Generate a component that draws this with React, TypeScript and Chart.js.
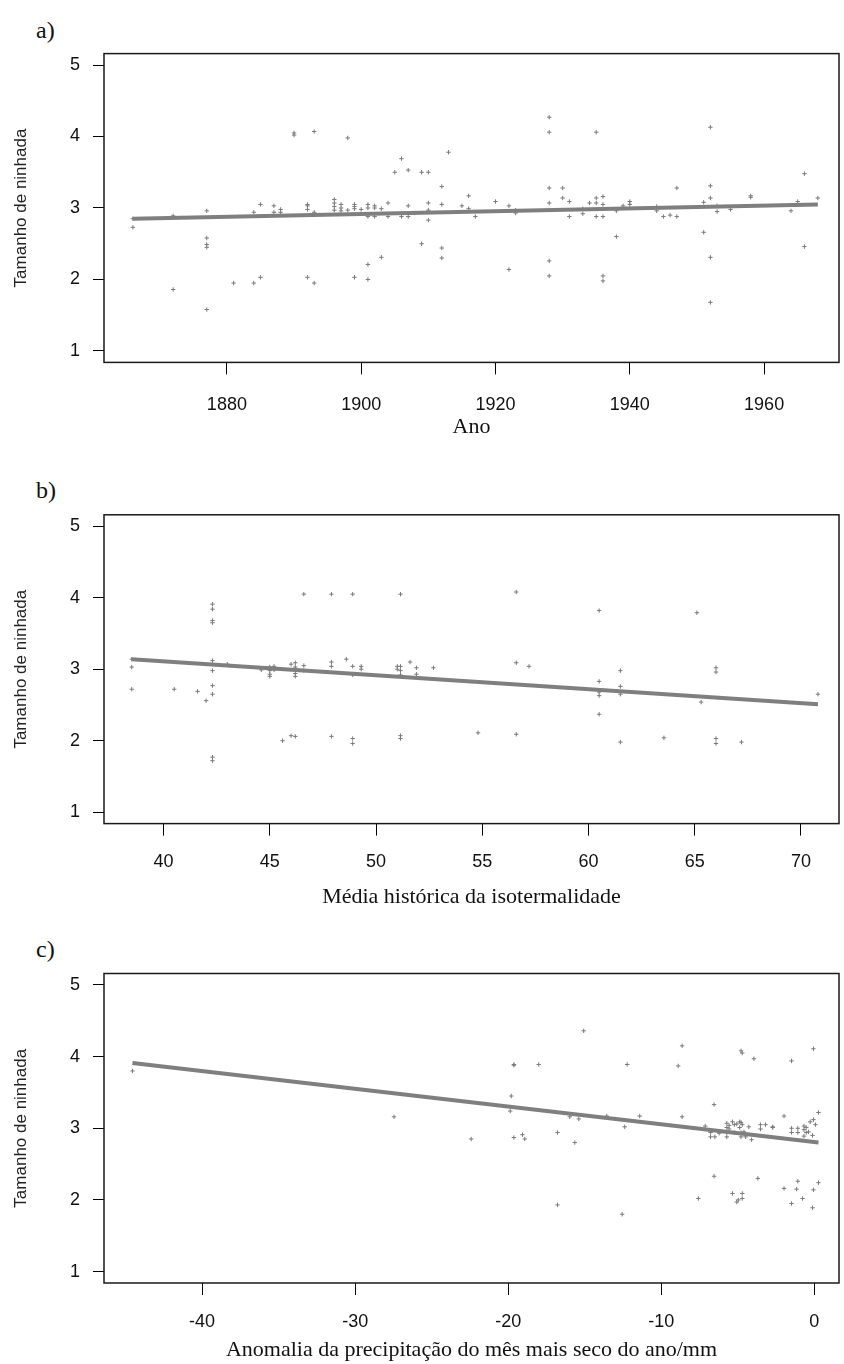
import React, { useEffect, useRef } from "react";
import { Chart, registerables } from "chart.js";

Chart.register(...registerables);

// ---------- shared ----------
const Y_TICKS = [1, 2, 3, 4, 5];
const Y_TITLE = "Tamanho de ninhada";

// ---------- panel a ----------
const A_TICKS = [1880, 1900, 1920, 1940, 1960];
const A_X = [
  1866, 1866, 1872, 1872, 1877, 1877, 1877, 1877, 1877, 1881, 1884, 1884, 1885, 1885,
  1887, 1887, 1888, 1888, 1890, 1890, 1892, 1892, 1892, 1892, 1893, 1893, 1893,
  1896, 1896, 1896, 1896, 1897, 1897, 1897, 1898, 1898, 1899, 1899, 1899, 1899, 1900,
  1901, 1901, 1901, 1901, 1901, 1902, 1902, 1902, 1903, 1903, 1904, 1904, 1905,
  1906, 1906, 1907, 1907, 1907, 1908, 1909, 1909, 1910, 1910, 1910, 1910,
  1912, 1912, 1912, 1912, 1913, 1915, 1916, 1916, 1917, 1920, 1922, 1922, 1923, 1923,
  1928, 1928, 1928, 1928, 1928, 1928, 1930, 1930, 1931, 1931, 1933, 1933, 1934,
  1935, 1935, 1935, 1935, 1936, 1936, 1936, 1936, 1936, 1938, 1938, 1939, 1940, 1940,
  1944, 1944, 1945, 1946, 1947, 1947, 1951, 1951, 1952, 1952, 1952, 1952, 1952,
  1953, 1953, 1955, 1958, 1958, 1964, 1965, 1966, 1966, 1968,
];
const A_Y = [
  2.73, 2.85, 2.89, 1.86, 2.96, 2.58, 2.49, 2.45, 1.58, 1.95, 2.94, 1.95, 3.05, 2.03,
  3.03, 2.94, 2.98, 2.94, 4.05, 4.02, 3.05, 3.03, 2.98, 2.03, 4.07, 2.94, 1.95,
  3.12, 3.07, 3.02, 2.97, 3.05, 3.0, 2.96, 3.98, 2.97, 3.05, 3.02, 2.99, 2.03, 2.98,
  3.05, 3.0, 2.88, 2.21, 2.0, 3.03, 3.0, 2.88, 2.99, 2.31, 3.07, 2.88, 3.5,
  3.69, 2.88, 3.53, 3.03, 2.88, 2.93, 3.5, 2.5, 3.5, 3.07, 2.97, 2.83,
  3.3, 3.05, 2.44, 2.3, 3.78, 3.03, 3.17, 2.99, 2.88, 3.09, 3.03, 2.14, 2.97, 2.93,
  4.27, 4.06, 3.28, 3.07, 2.26, 2.05, 3.28, 3.14, 3.09, 2.88, 2.99, 2.92, 3.07,
  4.06, 3.14, 3.07, 2.88, 3.16, 3.05, 2.88, 2.05, 1.98, 2.96, 2.6, 3.03, 3.09, 3.05,
  3.02, 2.96, 2.88, 2.9, 3.28, 2.88, 3.08, 2.66, 4.13, 3.31, 3.14, 2.31, 1.68,
  3.03, 2.95, 2.98, 3.17, 3.15, 2.96, 3.09, 3.48, 2.46, 3.14,
];
const A_FIT_X = [1866, 1968];
const A_FIT_Y = [2.85, 3.05];

// ---------- panel b ----------
const B_TICKS = [40, 45, 50, 55, 60, 65, 70];
const B_X = [
  38.5, 38.5, 38.5, 40.5, 41.6, 42.0,
  42.3, 42.3, 42.3, 42.3, 42.3, 42.3, 42.3, 42.3, 42.3, 42.3,
  43.0, 44.6, 45.0, 45.0, 45.0, 45.0, 45.2, 45.2, 45.6, 46.0, 46.0,
  46.2, 46.2, 46.2, 46.2, 46.2, 46.2, 46.6, 46.6, 46.6,
  47.9, 47.9, 47.9, 47.9, 48.6, 48.9, 48.9, 48.9, 48.9, 48.9, 49.3, 49.3,
  51.0, 51.0, 51.15, 51.15, 51.15, 51.15, 51.15, 51.15, 51.6, 51.9, 51.9, 52.7,
  54.8, 56.6, 56.6, 56.6, 57.2, 60.5, 60.5, 60.5, 60.5, 60.5,
  61.5, 61.5, 61.5, 61.5, 63.55, 65.1, 65.3, 66.0, 66.0, 66.0, 66.0, 67.2, 70.8,
];
const B_Y = [
  3.14, 3.03, 2.72, 2.72, 2.69, 2.56,
  3.91, 3.84, 3.68, 3.65, 3.12, 2.98, 2.77, 2.65, 1.77, 1.72,
  3.07, 2.99, 3.03, 2.98, 2.93, 2.9, 3.04, 2.99, 2.0, 3.07, 2.07,
  3.09, 3.03, 2.99, 2.94, 2.9, 2.06, 4.05, 3.05, 2.98,
  4.05, 3.1, 3.04, 2.06, 3.14, 4.05, 3.04, 2.92, 2.03, 1.96, 3.04, 3.0,
  3.04, 3.0, 4.05, 3.04, 2.98, 2.92, 2.07, 2.03, 3.1, 3.02, 2.93, 3.02,
  2.11, 4.08, 3.09, 2.09, 3.04, 3.82, 2.83, 2.68, 2.63, 2.37,
  2.98, 2.76, 2.65, 1.98, 2.04, 3.79, 2.54, 3.02, 2.96, 2.03, 1.96, 1.98, 2.65,
];
const B_FIT_X = [38.5, 70.8];
const B_FIT_Y = [3.14, 2.51];

// ---------- panel c ----------
const C_TICKS = [-40, -30, -20, -10, 0];
const C_X = [
  -44.55, -27.46, -22.42, -19.8, -19.87, -19.63, -19.63, -19.63, -19.07, -18.92, -18.01,
  -16.78, -16.78, -15.98, -15.65, -15.39, -15.07, -13.56, -12.56, -12.39, -12.23, -11.41,
  -8.9, -8.64, -8.64, -7.58, -7.13, -6.78, -6.78, -6.55, -6.55, -6.5, -6.22,
  -5.72, -5.72, -5.72, -5.72, -5.57, -5.57, -5.35, -5.35, -5.23, -5.23, -5.07, -5.07, -4.97,
  -4.88, -4.88, -4.79, -4.79, -4.79, -4.79, -4.71, -4.71, -4.71, -4.71, -4.6, -4.49, -4.28,
  -4.1, -3.95, -3.69, -3.52, -3.52, -3.19, -2.72, -2.72, -1.98, -1.98,
  -1.49, -1.49, -1.49, -1.49, -1.16, -1.08, -1.08, -1.08, -0.77, -0.68, -0.68, -0.68,
  -0.53, -0.53, -0.38, -0.27, -0.12, -0.12, -0.06, -0.06, -0.06, 0.07, 0.27, 0.27,
];
const C_Y = [
  3.8, 3.16, 2.85, 3.45, 3.24, 3.88, 3.89, 2.87, 2.91, 2.85, 3.89,
  2.94, 1.93, 3.16, 2.8, 3.13, 4.36, 3.17, 1.8, 3.02, 3.89, 3.17,
  3.87, 4.15, 3.16, 2.02, 3.03, 2.94, 2.88, 3.33, 2.33, 2.88, 2.93,
  3.07, 3.01, 2.94, 2.88, 3.04, 2.99, 3.09, 2.09, 3.05, 2.94, 3.06, 1.97, 2.0,
  3.09, 3.01, 4.08, 3.08, 2.94, 2.88, 4.05, 3.05, 2.09, 2.02, 2.95, 2.88, 3.02,
  2.84, 3.97, 2.3, 3.05, 2.99, 3.05, 3.02, 3.01, 3.17, 2.16,
  3.94, 3.0, 2.94, 1.95, 2.15, 3.0, 2.94, 2.26, 2.02, 3.03, 2.98, 2.89,
  3.01, 2.94, 2.95, 3.09, 1.89, 2.9, 2.14, 3.12, 4.11, 3.05, 3.22, 2.24,
];
const C_FIT_X = [-44.55, 0.27];
const C_FIT_Y = [3.91, 2.8];

// ---------- layout ----------
const PAGE_W = 844;
const PLOT_LEFT = 104;
const Y_MIN = 0.84;
const Y_MAX = 5.16;

const POINT_COLOR = "#7a7a7a";
const LINE_COLOR = "#7f7f7f";
const TEXT_COLOR = "#111111";

type PanelProps = {
  letter: string;
  letterY: number;
  top: number;
  height: number;
  boxTop: number;
  boxBottom: number;
  xMin: number;
  xMax: number;
  xTicks: number[];
  xs: number[];
  ys: number[];
  fitX: number[];
  fitY: number[];
  xTitle: string;
  xTitleY: number;
  labelPad: number;
};

const boxPlugin = {
  id: "rbox",
  afterDraw(chart: any) {
    const { ctx, chartArea } = chart;
    ctx.save();
    ctx.strokeStyle = "#1a1a1a";
    ctx.lineWidth = 1.5;
    ctx.strokeRect(
      chartArea.left,
      chartArea.top,
      chartArea.right - chartArea.left,
      chartArea.bottom - chartArea.top
    );
    ctx.restore();
  },
};

function Panel(p: PanelProps) {
  const ref = useRef<HTMLCanvasElement | null>(null);

  useEffect(() => {
    if (!ref.current) return;
    const padTop = p.boxTop - p.top;
    const boxH = p.boxBottom - p.boxTop;
    const xAxisH = p.height - padTop - boxH;
    const titleSize = 22;
    const titleLH = titleSize * 1.2;
    const titlePadBottom = p.top + p.height - p.xTitleY - titleLH / 2;

    const chart = new Chart(ref.current, {
      type: "scatter",
      data: {
        datasets: [
          {
            data: p.fitX.map((x, i) => ({ x, y: p.fitY[i] })),
            showLine: true,
            borderColor: LINE_COLOR,
            borderWidth: 4,
            pointRadius: 0,
            order: 0,
          } as any,
          {
            data: p.xs.map((x, i) => ({ x, y: p.ys[i] })),
            pointStyle: "cross",
            pointRadius: 2.2,
            borderColor: POINT_COLOR,
            backgroundColor: POINT_COLOR,
            borderWidth: 1,
            order: 1,
          } as any,
        ],
      },
      options: {
        responsive: false,
        animation: false,
        devicePixelRatio: 1,
        events: [],
        layout: { padding: { top: padTop, left: 6, right: 0, bottom: 0 } },
        plugins: {
          legend: { display: false },
          tooltip: { enabled: false },
        },
        scales: {
          x: {
            type: "linear",
            min: p.xMin,
            max: p.xMax,
            afterBuildTicks: (s: any) => {
              s.ticks = p.xTicks.map((v) => ({ value: v }));
            },
            afterFit: (s: any) => {
              s.height = xAxisH;
            },
            grid: {
              drawOnChartArea: false,
              drawTicks: true,
              tickLength: 12,
              color: "#000",
              lineWidth: 1,
            },
            border: { display: false },
            ticks: {
              font: { family: "Liberation Sans", size: 18 },
              color: TEXT_COLOR,
              padding: p.labelPad,
              maxRotation: 0,
              autoSkip: false,
              callback: (v: any) => String(v),
            },
            title: {
              display: true,
              text: p.xTitle,
              font: { family: "Liberation Serif", size: titleSize },
              color: TEXT_COLOR,
              padding: { top: 0, bottom: titlePadBottom },
            },
          },
          y: {
            type: "linear",
            min: Y_MIN,
            max: Y_MAX,
            afterBuildTicks: (s: any) => {
              s.ticks = Y_TICKS.map((v) => ({ value: v }));
            },
            afterFit: (s: any) => {
              s.width = PLOT_LEFT - 6;
            },
            grid: {
              drawOnChartArea: false,
              drawTicks: true,
              tickLength: 11,
              color: "#000",
              lineWidth: 1,
            },
            border: { display: false },
            ticks: {
              font: { family: "Liberation Sans", size: 18 },
              color: TEXT_COLOR,
              padding: 13,
              callback: (v: any) => String(v),
            },
            title: {
              display: true,
              text: Y_TITLE,
              font: { family: "Liberation Sans", size: 17 },
              color: "#222",
              padding: { top: 5, bottom: 0 },
            },
          },
        },
      } as any,
      plugins: [boxPlugin],
    });
    return () => chart.destroy();
  }, []);

  return (
    <>
      <div
        style={{
          position: "absolute",
          left: 36,
          top: p.letterY - 14,
          fontFamily: "Liberation Serif",
          fontSize: 24,
          lineHeight: "28px",
          color: TEXT_COLOR,
        }}
      >
        {p.letter}
      </div>
      <canvas
        ref={ref}
        width={PAGE_W}
        height={p.height}
        style={{
          position: "absolute",
          left: 0,
          top: p.top,
          width: PAGE_W,
          height: p.height,
          display: "block",
        }}
      />
    </>
  );
}

export default function App() {
  return (
    <div
      style={{
        position: "absolute",
        left: 0,
        top: 0,
        width: PAGE_W,
        height: 1364,
        background: "#fff",
        overflow: "hidden",
      }}
    >
      <Panel
        letter="a)"
        letterY={30}
        top={0}
        height={461}
        boxTop={53.6}
        boxBottom={362.4}
        xMin={1861.7}
        xMax={1971.15}
        xTicks={A_TICKS}
        xs={A_X}
        ys={A_Y}
        fitX={A_FIT_X}
        fitY={A_FIT_Y}
        xTitle="Ano"
        xTitleY={427}
        labelPad={20}
      />
      <Panel
        letter="b)"
        letterY={490}
        top={461}
        height={459}
        boxTop={514.8}
        boxBottom={823.6}
        xMin={37.195}
        xMax={71.79}
        xTicks={B_TICKS}
        xs={B_X}
        ys={B_Y}
        fitX={B_FIT_X}
        fitY={B_FIT_Y}
        xTitle="Média histórica da isotermalidade"
        xTitleY={897}
        labelPad={16}
      />
      <Panel
        letter="c)"
        letterY={949}
        top={920}
        height={444}
        boxTop={973.5}
        boxBottom={1283}
        xMin={-46.41}
        xMax={1.61}
        xTicks={C_TICKS}
        xs={C_X}
        ys={C_Y}
        fitX={C_FIT_X}
        fitY={C_FIT_Y}
        xTitle="Anomalia da precipitação do mês mais seco do ano/mm"
        xTitleY={1350}
        labelPad={16}
      />
    </div>
  );
}
